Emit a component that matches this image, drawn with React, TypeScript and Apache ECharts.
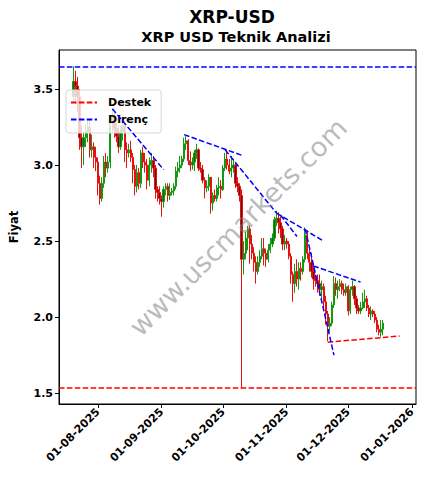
import React, { useEffect, useRef } from 'react';
import * as echarts from 'echarts';

// ---- axis range (daily categories) ----
const axisStart = '2025-07-13';
const axisEnd = '2026-01-03';
const candleStart = '2025-07-20';

// ---- daily candles, Jul 20 .. Dec 18 ----
const opens = [
  3.45,3.55,3.52,3.45,3.18,3.12,3.18,3.22,3.25,3.10,3.12,3.05,
  3.02,2.88,2.78,2.88,3.02,2.98,3.02,3.30,3.32,3.24,3.19,3.12,3.22,3.26,3.10,3.08,3.10,3.05,2.97,2.86,2.95,2.88,3.08,3.02,3.00,2.90,3.00,3.03,2.98,2.84,2.82,
  2.78,2.76,2.84,2.86,2.80,2.82,2.83,2.86,2.96,2.98,3.00,3.04,3.14,3.16,3.03,3.00,3.02,3.08,3.10,2.98,2.97,2.90,2.85,2.86,2.92,2.75,2.80,2.78,2.85,2.86,
  2.84,2.98,3.04,3.00,2.96,2.98,3.00,2.88,2.86,2.80,2.38,2.42,2.52,2.58,2.48,2.42,2.36,2.30,2.36,2.40,2.45,2.42,2.38,2.44,2.48,2.52,2.64,2.65,2.62,2.58,2.48,
  2.50,2.48,2.40,2.28,2.22,2.30,2.25,2.32,2.30,2.38,2.54,2.42,2.36,2.30,2.25,2.24,2.22,2.18,2.20,2.10,2.02,1.94,1.96,2.08,2.22,2.18,2.20,2.22,2.18,2.16,
  2.20,2.04,2.18,2.20,2.12,2.06,2.04,2.06,2.10,2.12,2.06,2.02,2.04,2.02,1.98,1.92,1.90,1.92,
];
const closes = [
  3.55,3.52,3.45,3.18,3.12,3.18,3.22,3.25,3.10,3.12,3.05,3.02,
  2.88,2.78,2.88,3.02,2.98,3.02,3.30,3.32,3.24,3.19,3.12,3.22,3.26,3.10,3.08,3.10,3.05,2.97,2.86,2.95,2.88,3.08,3.02,3.00,2.90,3.00,3.03,2.98,2.84,2.82,2.78,
  2.76,2.84,2.86,2.80,2.82,2.83,2.86,2.96,2.98,3.00,3.04,3.14,3.16,3.03,3.00,3.02,3.08,3.10,2.98,2.97,2.90,2.85,2.86,2.92,2.75,2.80,2.78,2.85,2.86,2.84,
  2.98,3.04,3.00,2.96,2.98,3.00,2.88,2.86,2.80,2.38,2.42,2.52,2.58,2.48,2.42,2.36,2.30,2.36,2.40,2.45,2.42,2.38,2.44,2.48,2.52,2.64,2.65,2.62,2.58,2.48,2.50,
  2.48,2.40,2.28,2.22,2.30,2.25,2.32,2.30,2.38,2.54,2.42,2.36,2.30,2.25,2.24,2.22,2.18,2.20,2.10,2.02,1.94,1.96,2.08,2.22,2.18,2.20,2.22,2.18,2.16,2.20,
  2.04,2.18,2.20,2.12,2.06,2.04,2.06,2.10,2.12,2.06,2.02,2.04,2.02,1.98,1.92,1.90,1.92,1.96,
];
const lows = [
  3.42,3.40,3.35,3.10,2.98,3.00,3.12,3.15,3.05,3.05,2.98,2.96,
  2.80,2.74,2.76,2.85,2.92,2.95,2.98,3.22,3.18,3.15,3.08,3.10,3.16,3.02,2.98,3.05,3.02,2.88,2.80,2.82,2.84,2.85,2.98,2.95,2.84,2.86,2.95,2.92,2.78,2.76,2.74,
  2.66,2.72,2.80,2.76,2.77,2.80,2.80,2.84,2.92,2.95,2.98,3.02,3.10,3.00,2.96,2.97,2.96,3.04,2.96,2.95,2.88,2.78,2.82,2.83,2.68,2.70,2.76,2.76,2.80,2.78,
  2.83,2.96,2.97,2.94,2.92,2.95,2.85,2.82,2.76,1.53,2.28,2.38,2.44,2.35,2.38,2.30,2.22,2.28,2.33,2.38,2.34,2.33,2.36,2.42,2.46,2.50,2.60,2.55,2.52,2.44,2.44,
  2.45,2.38,2.22,2.10,2.16,2.20,2.18,2.24,2.28,2.36,2.38,2.30,2.26,2.18,2.20,2.16,2.14,2.12,2.05,1.95,1.84,1.90,1.94,2.06,2.14,2.12,2.17,2.15,2.14,2.14,
  2.01,2.02,2.14,2.08,2.02,2.02,2.02,2.05,2.06,2.04,2.00,1.98,2.00,1.96,1.90,1.88,1.87,1.88,
];
const highs = [
  3.65,3.62,3.58,3.50,3.26,3.22,3.27,3.30,3.30,3.20,3.15,3.12,
  3.05,2.93,2.92,3.06,3.08,3.06,3.33,3.37,3.35,3.28,3.26,3.26,3.30,3.28,3.15,3.14,3.16,3.08,3.00,3.00,2.98,3.10,3.12,3.08,3.04,3.05,3.08,3.06,3.00,2.86,2.86,
  2.80,2.86,2.88,2.88,2.88,2.85,2.88,2.99,3.02,3.06,3.06,3.18,3.19,3.17,3.09,3.05,3.10,3.14,3.11,3.02,3.00,2.92,2.90,2.94,2.92,2.82,2.84,2.87,2.92,2.90,
  3.00,3.08,3.10,3.04,3.06,3.04,3.02,2.92,2.88,2.84,2.50,2.56,2.60,2.60,2.54,2.46,2.40,2.40,2.44,2.52,2.52,2.45,2.48,2.52,2.55,2.66,2.70,2.69,2.66,2.60,2.54,
  2.52,2.50,2.42,2.30,2.35,2.38,2.36,2.36,2.40,2.59,2.57,2.46,2.42,2.34,2.28,2.28,2.28,2.24,2.22,2.14,2.04,2.00,2.10,2.27,2.26,2.24,2.25,2.24,2.22,2.22,
  2.21,2.20,2.24,2.21,2.14,2.08,2.10,2.16,2.18,2.14,2.08,2.07,2.05,2.04,2.00,1.95,1.98,1.98,
];

// ---- levels and trend lines ----
const supportLevel = 1.533;
const resistanceLevel = 3.645;
const supportTrends: [string, number, string, number][] = [
  ['2025-11-21', 1.835, '2025-12-26', 1.875],
];
const resistanceTrends: [string, number, string, number][] = [
  ['2025-08-08', 3.37, '2025-09-02', 2.97],
  ['2025-09-12', 3.20, '2025-10-11', 3.06],
  ['2025-10-02', 3.10, '2025-10-27', 2.684],
  ['2025-10-27', 2.684, '2025-11-19', 2.50],
  ['2025-10-29', 2.67, '2025-11-06', 2.53],
  ['2025-11-10', 2.58, '2025-11-24', 1.75],
  ['2025-11-14', 2.336, '2025-12-07', 2.23],
];
const yTicks = [1.5, 2.0, 2.5, 3.0, 3.5];

const DAY = 86400000;
const toMs = (s: string) => Date.parse(s + 'T00:00:00Z');
const pad = (n: number) => (n < 10 ? '0' + n : '' + n);
const fmt = (ms: number) => {
  const d = new Date(ms);
  return pad(d.getUTCDate()) + '-' + pad(d.getUTCMonth() + 1) + '-' + d.getUTCFullYear();
};

const categories: string[] = [];
for (let t = toMs(axisStart); t <= toMs(axisEnd); t += DAY) categories.push(fmt(t));
const idx = (s: string) => Math.round((toMs(s) - toMs(axisStart)) / DAY);

const FONT = 'DejaVu Sans';

export default function App() {
  const ref = useRef<HTMLDivElement>(null);
  useEffect(() => {
    if (!ref.current) return;
    const chart = echarts.init(ref.current, undefined, { renderer: 'svg' });
    const start = idx(candleStart);
    const candleData = opens.map((o, i) => [start + i, o, closes[i], lows[i], highs[i]]);
    const last = categories.length - 1;
    const dash = [5.5, 2.4];
    const lineSeries = (name: string, color: string, data: any[]) => ({
      type: 'line',
      name,
      data,
      symbol: 'none',
      silent: true,
      z: 5,
      lineStyle: { color, width: 1.5, type: dash },
      itemStyle: { color },
    });
    const isMonthStart = (_i: number, v: string) => v.startsWith('01-');
    const series: any[] = [
      {
        type: 'candlestick',
        name: 'XRP',
        data: candleData,
        encode: { x: 0, y: [1, 2, 3, 4] },
        barWidth: 1.8,
        itemStyle: {
          color: '#0c6a0c',
          color0: '#5c0c0c',
          borderColor: '#119911',
          borderColor0: '#e81010',
          borderWidth: 1,
        },
        z: 2,
      },
      lineSeries('Destek', '#ff0000', [[0, supportLevel], [last, supportLevel]]),
      lineSeries('Direnç', '#0000ff', [[0, resistanceLevel], [last, resistanceLevel]]),
    ];
    supportTrends.forEach((t) =>
      series.push(lineSeries('Destek', '#ff0000', [[idx(t[0]), t[1]], [idx(t[2]), t[3]]]))
    );
    resistanceTrends.forEach((t) =>
      series.push(lineSeries('Direnç', '#0000ff', [[idx(t[0]), t[1]], [idx(t[2]), t[3]]]))
    );

    chart.setOption({
      animation: false,
      backgroundColor: '#ffffff',
      graphic: [
        {
          type: 'text',
          x: 232,
          y: 17,
          style: { text: 'XRP-USD', align: 'center', verticalAlign: 'middle', font: `bold 17px "${FONT}"`, fill: '#000' },
        },
        {
          type: 'text',
          x: 236,
          y: 37,
          style: { text: 'XRP USD Teknik Analizi', align: 'center', verticalAlign: 'middle', font: `bold 14.5px "${FONT}"`, fill: '#000' },
        },
        {
          type: 'text',
          x: 238,
          y: 227,
          rotation: Math.PI / 4,
          z: 10,
          style: { text: 'www.uscmarkets.com', align: 'center', verticalAlign: 'middle', font: `27px "${FONT}"`, fill: 'rgba(128,128,128,0.55)' },
        },
      ],
      legend: {
        data: ['Destek', 'Direnç'],
        orient: 'vertical',
        left: 66,
        top: 90,
        itemWidth: 26,
        itemHeight: 12,
        itemGap: 6,
        padding: [7, 10, 8, 4],
        backgroundColor: 'rgba(255,255,255,0.8)',
        borderColor: '#d6d6d6',
        borderWidth: 1,
        borderRadius: 3,
        selectedMode: false,
        itemStyle: { opacity: 0 },
        textStyle: { fontFamily: FONT, fontWeight: 'bold', fontSize: 11, color: '#000', padding: [0, 0, 0, 6] },
      },
      grid: {
        left: 59,
        right: 13,
        top: 50,
        bottom: 85,
        show: true,
        borderColor: '#000',
        borderWidth: 1,
        backgroundColor: '#ffffff',
        containLabel: false,
        outerBoundsMode: 'none',
      },
      xAxis: {
        type: 'category',
        data: categories,
        boundaryGap: false,
        axisLine: { show: true, lineStyle: { color: '#000', width: 1 } },
        axisTick: { show: true, interval: isMonthStart, length: 4, lineStyle: { color: '#000' } },
        axisLabel: {
          interval: isMonthStart,
          rotate: 45,
          margin: 6,
          fontFamily: FONT,
          fontWeight: 'bold',
          fontSize: 11,
          color: '#000',
        },
        splitLine: { show: false },
      },
      yAxis: {
        type: 'value',
        min: 1.428,
        max: 3.757,
        name: 'Fiyat',
        nameLocation: 'middle',
        nameGap: 39,
        nameTextStyle: { fontFamily: FONT, fontWeight: 'bold', fontSize: 11.5, color: '#000' },
        axisLine: { show: true, lineStyle: { color: '#000', width: 1 } },
        axisTick: { show: true, length: 4, customValues: yTicks, lineStyle: { color: '#000' } },
        axisLabel: {
          customValues: yTicks,
          formatter: (v: number) => v.toFixed(1),
          fontFamily: FONT,
          fontWeight: 'bold',
          fontSize: 11,
          color: '#000',
          margin: 6,
        },
        splitLine: { show: false },
      },
      series,
    });
    return () => chart.dispose();
  }, []);
  return <div ref={ref} style={{ width: 429, height: 489, position: 'absolute', left: 0, top: 0 }} />;
}
